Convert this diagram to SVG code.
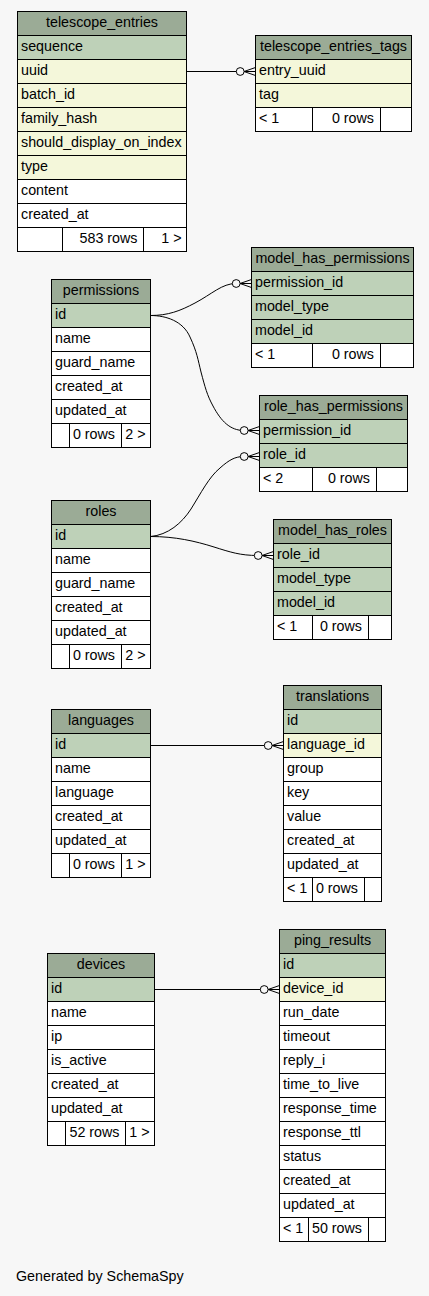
<svg xmlns="http://www.w3.org/2000/svg" width="429" height="1296" viewBox="0 0 429 1296">
<defs>
<style>
.c{stroke:#000;stroke-width:1}
.h{fill:#9bab96}
.p{fill:#bed1b8}
.i{fill:#f4f7da}
.w{fill:#ffffff}
text{font-family:"Liberation Sans",Arial,Helvetica,sans-serif;font-size:14.3px;fill:#000}
.t{text-anchor:middle}
.r{text-anchor:end}
.e{fill:none;stroke:#000;stroke-width:1}
</style>
<marker id="crowodot" markerWidth="20" markerHeight="10" refX="0" refY="0" orient="auto" markerUnits="userSpaceOnUse" overflow="visible">
<path d="M-11.5,0 L0,-4 M-11.5,0 L0,4 M-11.5,0 L0,0" fill="none" stroke="#000" stroke-width="1"/>
<circle cx="-15.3" cy="0" r="3.9" fill="#f7f7f7" stroke="#000" stroke-width="1"/>
</marker>
</defs>
<rect x="0" y="0" width="429" height="1296" fill="#f7f7f7"/>

<g id="connectors">
<path class="e" d="M186.5,71.5 H255.5" marker-end="url(#crowodot)"/>
<path class="e" d="M150.5,315.5 C168,315.5 180,311 195,303 C212,294 222,283.5 236,283.5 H251.5" marker-end="url(#crowodot)"/>
<path class="e" d="M150.5,315.5 C166,315.5 183,321 190,337 C197,352 198,360 201,372 C205,387 207,395 213,406 C221,421 230,430.5 244,430.5 H259.5" marker-end="url(#crowodot)"/>
<path class="e" d="M150.5,536.5 C168,535 182,523 191,509 C201,493 209,477 220,468 C229,460 235,456.5 244,456.5 H259.5" marker-end="url(#crowodot)"/>
<path class="e" d="M150.5,536.5 C175,536.5 195,541 214,547 C230,552 240,555.5 258,555.5 H273.5" marker-end="url(#crowodot)"/>
<path class="e" d="M150.5,745.5 H283.5" marker-end="url(#crowodot)"/>
<path class="e" d="M154.5,989.5 H279.5" marker-end="url(#crowodot)"/>
</g>

<g id="telescope_entries">
<rect class="c h" x="17.5" y="11.5" width="169" height="24"/>
<rect class="c p" x="17.5" y="35.5" width="169" height="24"/>
<rect class="c i" x="17.5" y="59.5" width="169" height="24"/>
<rect class="c i" x="17.5" y="83.5" width="169" height="24"/>
<rect class="c i" x="17.5" y="107.5" width="169" height="24"/>
<rect class="c i" x="17.5" y="131.5" width="169" height="24"/>
<rect class="c i" x="17.5" y="155.5" width="169" height="24"/>
<rect class="c w" x="17.5" y="179.5" width="169" height="24"/>
<rect class="c w" x="17.5" y="203.5" width="169" height="24"/>
<rect class="c w" x="17.5" y="227.5" width="45" height="24"/>
<rect class="c w" x="62.5" y="227.5" width="81" height="24"/>
<rect class="c w" x="143.5" y="227.5" width="43" height="24"/>
<text class="t" x="102" y="26.5">telescope_entries</text>
<text x="21" y="50.5">sequence</text>
<text x="21" y="74.5">uuid</text>
<text x="21" y="98.5">batch_id</text>
<text x="21" y="122.5">family_hash</text>
<text x="21" y="146.5">should_display_on_index</text>
<text x="21" y="170.5">type</text>
<text x="21" y="194.5">content</text>
<text x="21" y="218.5">created_at</text>
<text class="r" x="137.5" y="242.5">583 rows</text>
<text class="r" x="181.5" y="242.5">1 &gt;</text>
</g>

<g id="telescope_entries_tags">
<rect class="c h" x="255.5" y="35.5" width="156" height="24"/>
<rect class="c i" x="255.5" y="59.5" width="156" height="24"/>
<rect class="c i" x="255.5" y="83.5" width="156" height="24"/>
<rect class="c w" x="255.5" y="107.5" width="57" height="24"/>
<rect class="c w" x="312.5" y="107.5" width="68" height="24"/>
<rect class="c w" x="380.5" y="107.5" width="31" height="24"/>
<text class="t" x="333.5" y="50.5">telescope_entries_tags</text>
<text x="259" y="74.5">entry_uuid</text>
<text x="259" y="98.5">tag</text>
<text x="259" y="122.5">&lt; 1</text>
<text class="r" x="374" y="122.5">0 rows</text>
</g>

<g id="permissions">
<rect class="c h" x="51.5" y="279.5" width="99" height="24"/>
<rect class="c p" x="51.5" y="303.5" width="99" height="24"/>
<rect class="c w" x="51.5" y="327.5" width="99" height="24"/>
<rect class="c w" x="51.5" y="351.5" width="99" height="24"/>
<rect class="c w" x="51.5" y="375.5" width="99" height="24"/>
<rect class="c w" x="51.5" y="399.5" width="99" height="24"/>
<rect class="c w" x="51.5" y="423.5" width="18" height="24"/>
<rect class="c w" x="69.5" y="423.5" width="52" height="24"/>
<rect class="c w" x="121.5" y="423.5" width="29" height="24"/>
<text class="t" x="101" y="294.5">permissions</text>
<text x="55" y="318.5">id</text>
<text x="55" y="342.5">name</text>
<text x="55" y="366.5">guard_name</text>
<text x="55" y="390.5">created_at</text>
<text x="55" y="414.5">updated_at</text>
<text class="r" x="115" y="438.5">0 rows</text>
<text class="r" x="145.5" y="438.5">2 &gt;</text>
</g>

<g id="model_has_permissions">
<rect class="c h" x="251.5" y="247.5" width="162" height="24"/>
<rect class="c p" x="251.5" y="271.5" width="162" height="24"/>
<rect class="c p" x="251.5" y="295.5" width="162" height="24"/>
<rect class="c p" x="251.5" y="319.5" width="162" height="24"/>
<rect class="c w" x="251.5" y="343.5" width="61" height="24"/>
<rect class="c w" x="312.5" y="343.5" width="68" height="24"/>
<rect class="c w" x="380.5" y="343.5" width="33" height="24"/>
<text class="t" x="332.5" y="262.5">model_has_permissions</text>
<text x="255" y="286.5">permission_id</text>
<text x="255" y="310.5">model_type</text>
<text x="255" y="334.5">model_id</text>
<text x="255" y="358.5">&lt; 1</text>
<text class="r" x="374" y="358.5">0 rows</text>
</g>

<g id="role_has_permissions">
<rect class="c h" x="259.5" y="395.5" width="148" height="24"/>
<rect class="c p" x="259.5" y="419.5" width="148" height="24"/>
<rect class="c p" x="259.5" y="443.5" width="148" height="24"/>
<rect class="c w" x="259.5" y="467.5" width="53" height="24"/>
<rect class="c w" x="312.5" y="467.5" width="64" height="24"/>
<rect class="c w" x="376.5" y="467.5" width="31" height="24"/>
<text class="t" x="333.5" y="410.5">role_has_permissions</text>
<text x="263" y="434.5">permission_id</text>
<text x="263" y="458.5">role_id</text>
<text x="263" y="482.5">&lt; 2</text>
<text class="r" x="370" y="482.5">0 rows</text>
</g>

<g id="roles">
<rect class="c h" x="51.5" y="500.5" width="99" height="24"/>
<rect class="c p" x="51.5" y="524.5" width="99" height="24"/>
<rect class="c w" x="51.5" y="548.5" width="99" height="24"/>
<rect class="c w" x="51.5" y="572.5" width="99" height="24"/>
<rect class="c w" x="51.5" y="596.5" width="99" height="24"/>
<rect class="c w" x="51.5" y="620.5" width="99" height="24"/>
<rect class="c w" x="51.5" y="644.5" width="18" height="24"/>
<rect class="c w" x="69.5" y="644.5" width="52" height="24"/>
<rect class="c w" x="121.5" y="644.5" width="29" height="24"/>
<text class="t" x="101" y="515.5">roles</text>
<text x="55" y="539.5">id</text>
<text x="55" y="563.5">name</text>
<text x="55" y="587.5">guard_name</text>
<text x="55" y="611.5">created_at</text>
<text x="55" y="635.5">updated_at</text>
<text class="r" x="115" y="659.5">0 rows</text>
<text class="r" x="145.5" y="659.5">2 &gt;</text>
</g>

<g id="model_has_roles">
<rect class="c h" x="273.5" y="519.5" width="118" height="24"/>
<rect class="c p" x="273.5" y="543.5" width="118" height="24"/>
<rect class="c p" x="273.5" y="567.5" width="118" height="24"/>
<rect class="c p" x="273.5" y="591.5" width="118" height="24"/>
<rect class="c w" x="273.5" y="615.5" width="39" height="24"/>
<rect class="c w" x="312.5" y="615.5" width="56" height="24"/>
<rect class="c w" x="368.5" y="615.5" width="23" height="24"/>
<text class="t" x="332.5" y="534.5">model_has_roles</text>
<text x="277" y="558.5">role_id</text>
<text x="277" y="582.5">model_type</text>
<text x="277" y="606.5">model_id</text>
<text x="277" y="630.5">&lt; 1</text>
<text class="r" x="362" y="630.5">0 rows</text>
</g>

<g id="languages">
<rect class="c h" x="51.5" y="709.5" width="99" height="24"/>
<rect class="c p" x="51.5" y="733.5" width="99" height="24"/>
<rect class="c w" x="51.5" y="757.5" width="99" height="24"/>
<rect class="c w" x="51.5" y="781.5" width="99" height="24"/>
<rect class="c w" x="51.5" y="805.5" width="99" height="24"/>
<rect class="c w" x="51.5" y="829.5" width="99" height="24"/>
<rect class="c w" x="51.5" y="853.5" width="18" height="24"/>
<rect class="c w" x="69.5" y="853.5" width="52" height="24"/>
<rect class="c w" x="121.5" y="853.5" width="29" height="24"/>
<text class="t" x="101" y="724.5">languages</text>
<text x="55" y="748.5">id</text>
<text x="55" y="772.5">name</text>
<text x="55" y="796.5">language</text>
<text x="55" y="820.5">created_at</text>
<text x="55" y="844.5">updated_at</text>
<text class="r" x="115" y="868.5">0 rows</text>
<text class="r" x="145.5" y="868.5">1 &gt;</text>
</g>

<g id="translations">
<rect class="c h" x="283.5" y="685.5" width="98" height="24"/>
<rect class="c p" x="283.5" y="709.5" width="98" height="24"/>
<rect class="c i" x="283.5" y="733.5" width="98" height="24"/>
<rect class="c w" x="283.5" y="757.5" width="98" height="24"/>
<rect class="c w" x="283.5" y="781.5" width="98" height="24"/>
<rect class="c w" x="283.5" y="805.5" width="98" height="24"/>
<rect class="c w" x="283.5" y="829.5" width="98" height="24"/>
<rect class="c w" x="283.5" y="853.5" width="98" height="24"/>
<rect class="c w" x="283.5" y="877.5" width="29" height="24"/>
<rect class="c w" x="312.5" y="877.5" width="52" height="24"/>
<rect class="c w" x="364.5" y="877.5" width="17" height="24"/>
<text class="t" x="332.5" y="700.5">translations</text>
<text x="287" y="724.5">id</text>
<text x="287" y="748.5">language_id</text>
<text x="287" y="772.5">group</text>
<text x="287" y="796.5">key</text>
<text x="287" y="820.5">value</text>
<text x="287" y="844.5">created_at</text>
<text x="287" y="868.5">updated_at</text>
<text x="287" y="892.5">&lt; 1</text>
<text class="r" x="358" y="892.5">0 rows</text>
</g>

<g id="devices">
<rect class="c h" x="47.5" y="953.5" width="107" height="24"/>
<rect class="c p" x="47.5" y="977.5" width="107" height="24"/>
<rect class="c w" x="47.5" y="1001.5" width="107" height="24"/>
<rect class="c w" x="47.5" y="1025.5" width="107" height="24"/>
<rect class="c w" x="47.5" y="1049.5" width="107" height="24"/>
<rect class="c w" x="47.5" y="1073.5" width="107" height="24"/>
<rect class="c w" x="47.5" y="1097.5" width="107" height="24"/>
<rect class="c w" x="47.5" y="1121.5" width="18" height="24"/>
<rect class="c w" x="65.5" y="1121.5" width="60" height="24"/>
<rect class="c w" x="125.5" y="1121.5" width="29" height="24"/>
<text class="t" x="101" y="968.5">devices</text>
<text x="51" y="992.5">id</text>
<text x="51" y="1016.5">name</text>
<text x="51" y="1040.5">ip</text>
<text x="51" y="1064.5">is_active</text>
<text x="51" y="1088.5">created_at</text>
<text x="51" y="1112.5">updated_at</text>
<text class="r" x="119.5" y="1136.5">52 rows</text>
<text class="r" x="149.5" y="1136.5">1 &gt;</text>
</g>

<g id="ping_results">
<rect class="c h" x="279.5" y="929.5" width="106" height="24"/>
<rect class="c p" x="279.5" y="953.5" width="106" height="24"/>
<rect class="c i" x="279.5" y="977.5" width="106" height="24"/>
<rect class="c w" x="279.5" y="1001.5" width="106" height="24"/>
<rect class="c w" x="279.5" y="1025.5" width="106" height="24"/>
<rect class="c w" x="279.5" y="1049.5" width="106" height="24"/>
<rect class="c w" x="279.5" y="1073.5" width="106" height="24"/>
<rect class="c w" x="279.5" y="1097.5" width="106" height="24"/>
<rect class="c w" x="279.5" y="1121.5" width="106" height="24"/>
<rect class="c w" x="279.5" y="1145.5" width="106" height="24"/>
<rect class="c w" x="279.5" y="1169.5" width="106" height="24"/>
<rect class="c w" x="279.5" y="1193.5" width="106" height="24"/>
<rect class="c w" x="279.5" y="1217.5" width="29" height="24"/>
<rect class="c w" x="308.5" y="1217.5" width="60" height="24"/>
<rect class="c w" x="368.5" y="1217.5" width="17" height="24"/>
<text class="t" x="332.5" y="944.5">ping_results</text>
<text x="283" y="968.5">id</text>
<text x="283" y="992.5">device_id</text>
<text x="283" y="1016.5">run_date</text>
<text x="283" y="1040.5">timeout</text>
<text x="283" y="1064.5">reply_i</text>
<text x="283" y="1088.5">time_to_live</text>
<text x="283" y="1112.5">response_time</text>
<text x="283" y="1136.5">response_ttl</text>
<text x="283" y="1160.5">status</text>
<text x="283" y="1184.5">created_at</text>
<text x="283" y="1208.5">updated_at</text>
<text x="283" y="1232.5">&lt; 1</text>
<text class="r" x="362" y="1232.5">50 rows</text>
</g>

<text x="16" y="1281">Generated by SchemaSpy</text>
</svg>
